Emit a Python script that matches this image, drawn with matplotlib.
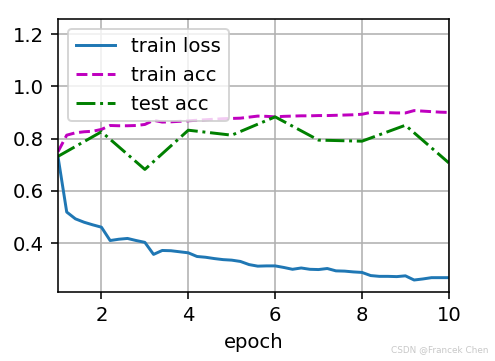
import matplotlib
matplotlib.use("Agg")
import matplotlib.pyplot as plt

# train metrics are recorded 5 times per epoch, test acc once per epoch
train_x = [1.0, 1.2, 1.4, 1.6, 1.8, 2.0, 2.2, 2.4, 2.6, 2.8,
           3.0, 3.2, 3.4, 3.6, 3.8, 4.0, 4.2, 4.4, 4.6, 4.8,
           5.0, 5.2, 5.4, 5.6, 5.8, 6.0, 6.2, 6.4, 6.6, 6.8,
           7.0, 7.2, 7.4, 7.6, 7.8, 8.0, 8.2, 8.4, 8.6, 8.8,
           9.0, 9.2, 9.4, 9.6, 9.8, 10.0]
train_loss = [0.73, 0.519, 0.493, 0.48, 0.47, 0.461, 0.41, 0.415, 0.418, 0.41,
              0.403, 0.357, 0.372, 0.371, 0.367, 0.363, 0.349, 0.346, 0.341, 0.337,
              0.335, 0.33, 0.318, 0.312, 0.313, 0.313, 0.307, 0.30, 0.305, 0.30,
              0.299, 0.303, 0.294, 0.293, 0.29, 0.288, 0.276, 0.273, 0.273, 0.272,
              0.275, 0.259, 0.263, 0.268, 0.268, 0.268]
train_acc = [0.75, 0.813, 0.822, 0.826, 0.828, 0.835, 0.85, 0.849, 0.849, 0.85,
             0.854, 0.87, 0.863, 0.864, 0.866, 0.868, 0.870, 0.872, 0.874, 0.876,
             0.877, 0.878, 0.882, 0.886, 0.885, 0.883, 0.885, 0.886, 0.887, 0.887,
             0.888, 0.888, 0.889, 0.890, 0.891, 0.893, 0.90, 0.899, 0.899, 0.898,
             0.898, 0.907, 0.905, 0.903, 0.901, 0.90]
test_x = [1, 2, 3, 4, 5, 6, 7, 8, 9, 10]
test_acc = [0.732, 0.826, 0.682, 0.832, 0.813, 0.883, 0.794, 0.79, 0.851, 0.707]

fig = plt.figure(figsize=(3.5, 2.548), dpi=141.7)
ax = fig.add_axes([0.117, 0.191, 0.788, 0.756])

ax.plot(train_x, train_loss, "-", color="#1f77b4", label="train loss")
ax.plot(train_x, train_acc, "m--", label="train acc")
ax.plot(test_x, test_acc, "g-.", label="test acc")

ax.set_xlim(1, 10)
ax.set_ylim(0.213, 1.257)
ax.set_xticks([2, 4, 6, 8, 10])
ax.set_yticks([0.4, 0.6, 0.8, 1.0, 1.2])
ax.set_xlabel("epoch")
ax.grid(True)
ax.legend(loc="upper left")

fig.text(0.985, 0.02, "CSDN @Francek Chen", ha="right", va="bottom",
         fontsize=4.5, color="#c8c8c8")

fig.savefig("out.png", dpi=141.7)
